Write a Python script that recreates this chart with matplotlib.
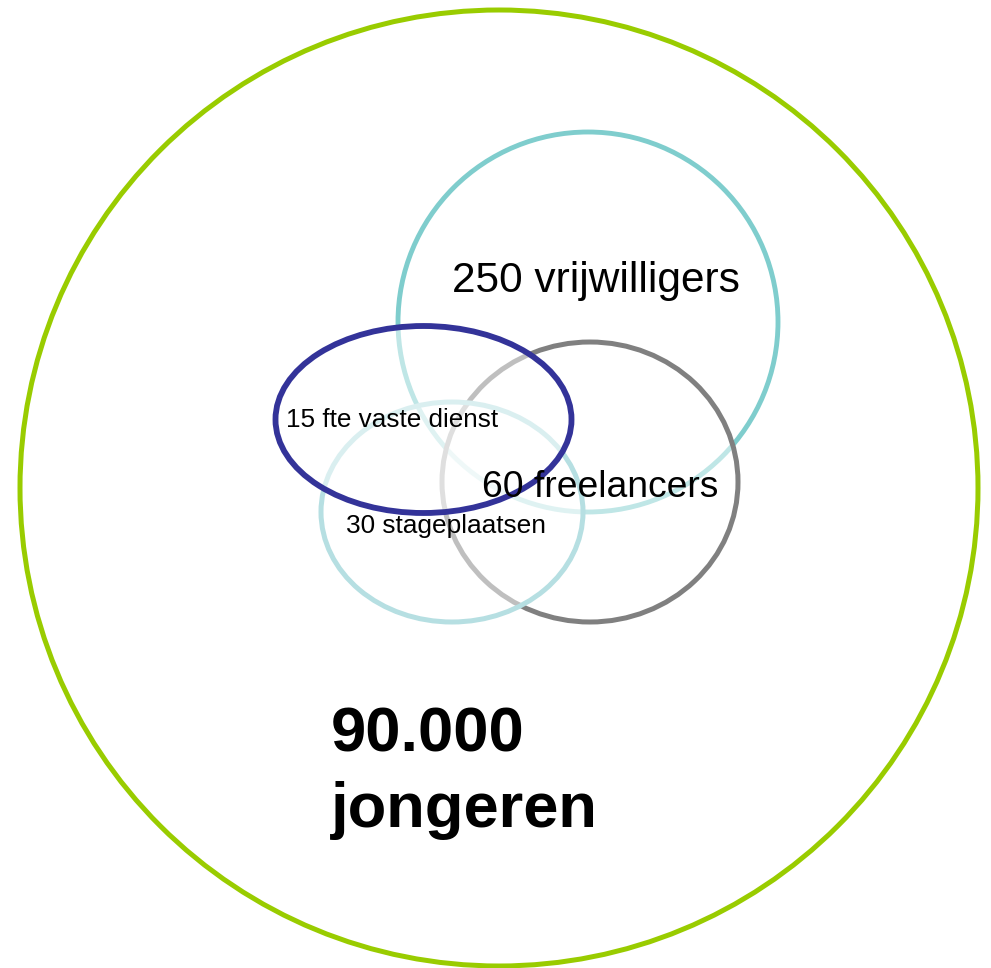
import matplotlib.pyplot as plt
from matplotlib.patches import Ellipse

plt.rcParams['font.family'] = ['Liberation Sans', 'DejaVu Sans']

# Data
groups = ['jongeren', 'vrijwilligers', 'freelancers', 'stageplaatsen', 'fte vaste dienst']
counts = [90000, 250, 60, 30, 15]

W, H = 991, 968
fig = plt.figure(figsize=(W / 100, H / 100), dpi=100)
ax = fig.add_axes([0, 0, 1, 1])
ax.set_xlim(0, W)
ax.set_ylim(H, 0)
ax.set_aspect('equal')
ax.axis('off')

# shapes in pixel coordinates: centre, width, height, colour, line width
# drawing order matters, every shape has a half transparent white fill
shapes = {
    'jongeren': ((499, 488), 958, 956, '#99cc00', 3.6),
    'vrijwilligers': ((588, 322), 380, 380, '#7fcdcd', 3.5),
    'freelancers': ((590, 482), 296, 280, '#808080', 3.6),
    'stageplaatsen': ((452, 512), 262, 220, '#b6dfe2', 3.6),
    'fte vaste dienst': ((423.5, 419.5), 296, 187, '#333399', 4.2),
}
for name in groups:
    (cx, cy), w, h, col, lw = shapes[name]
    ax.add_patch(Ellipse((cx, cy), w, h, facecolor=(1, 1, 1, 0.5),
                         edgecolor=col, linewidth=lw))


def nl(n):
    return f'{n:,}'.replace(',', '.')


# Labels
ax.text(452, 292, f'{nl(counts[1])} {groups[1]}', fontsize=30.5, va='baseline', ha='left')
ax.text(482, 497, f'{nl(counts[2])} {groups[2]}', fontsize=26.8, va='baseline', ha='left')
ax.text(286, 427, f'{nl(counts[4])} {groups[4]}', fontsize=18.8, va='baseline', ha='left')
ax.text(346, 533, f'{nl(counts[3])} {groups[3]}', fontsize=18.9, va='baseline', ha='left')
ax.text(331, 752, nl(counts[0]), fontsize=45.5, fontweight='bold', va='baseline', ha='left')
ax.text(331, 827, groups[0], fontsize=45.5, fontweight='bold', va='baseline', ha='left')

fig.savefig('out.png', dpi=100, facecolor='white')
